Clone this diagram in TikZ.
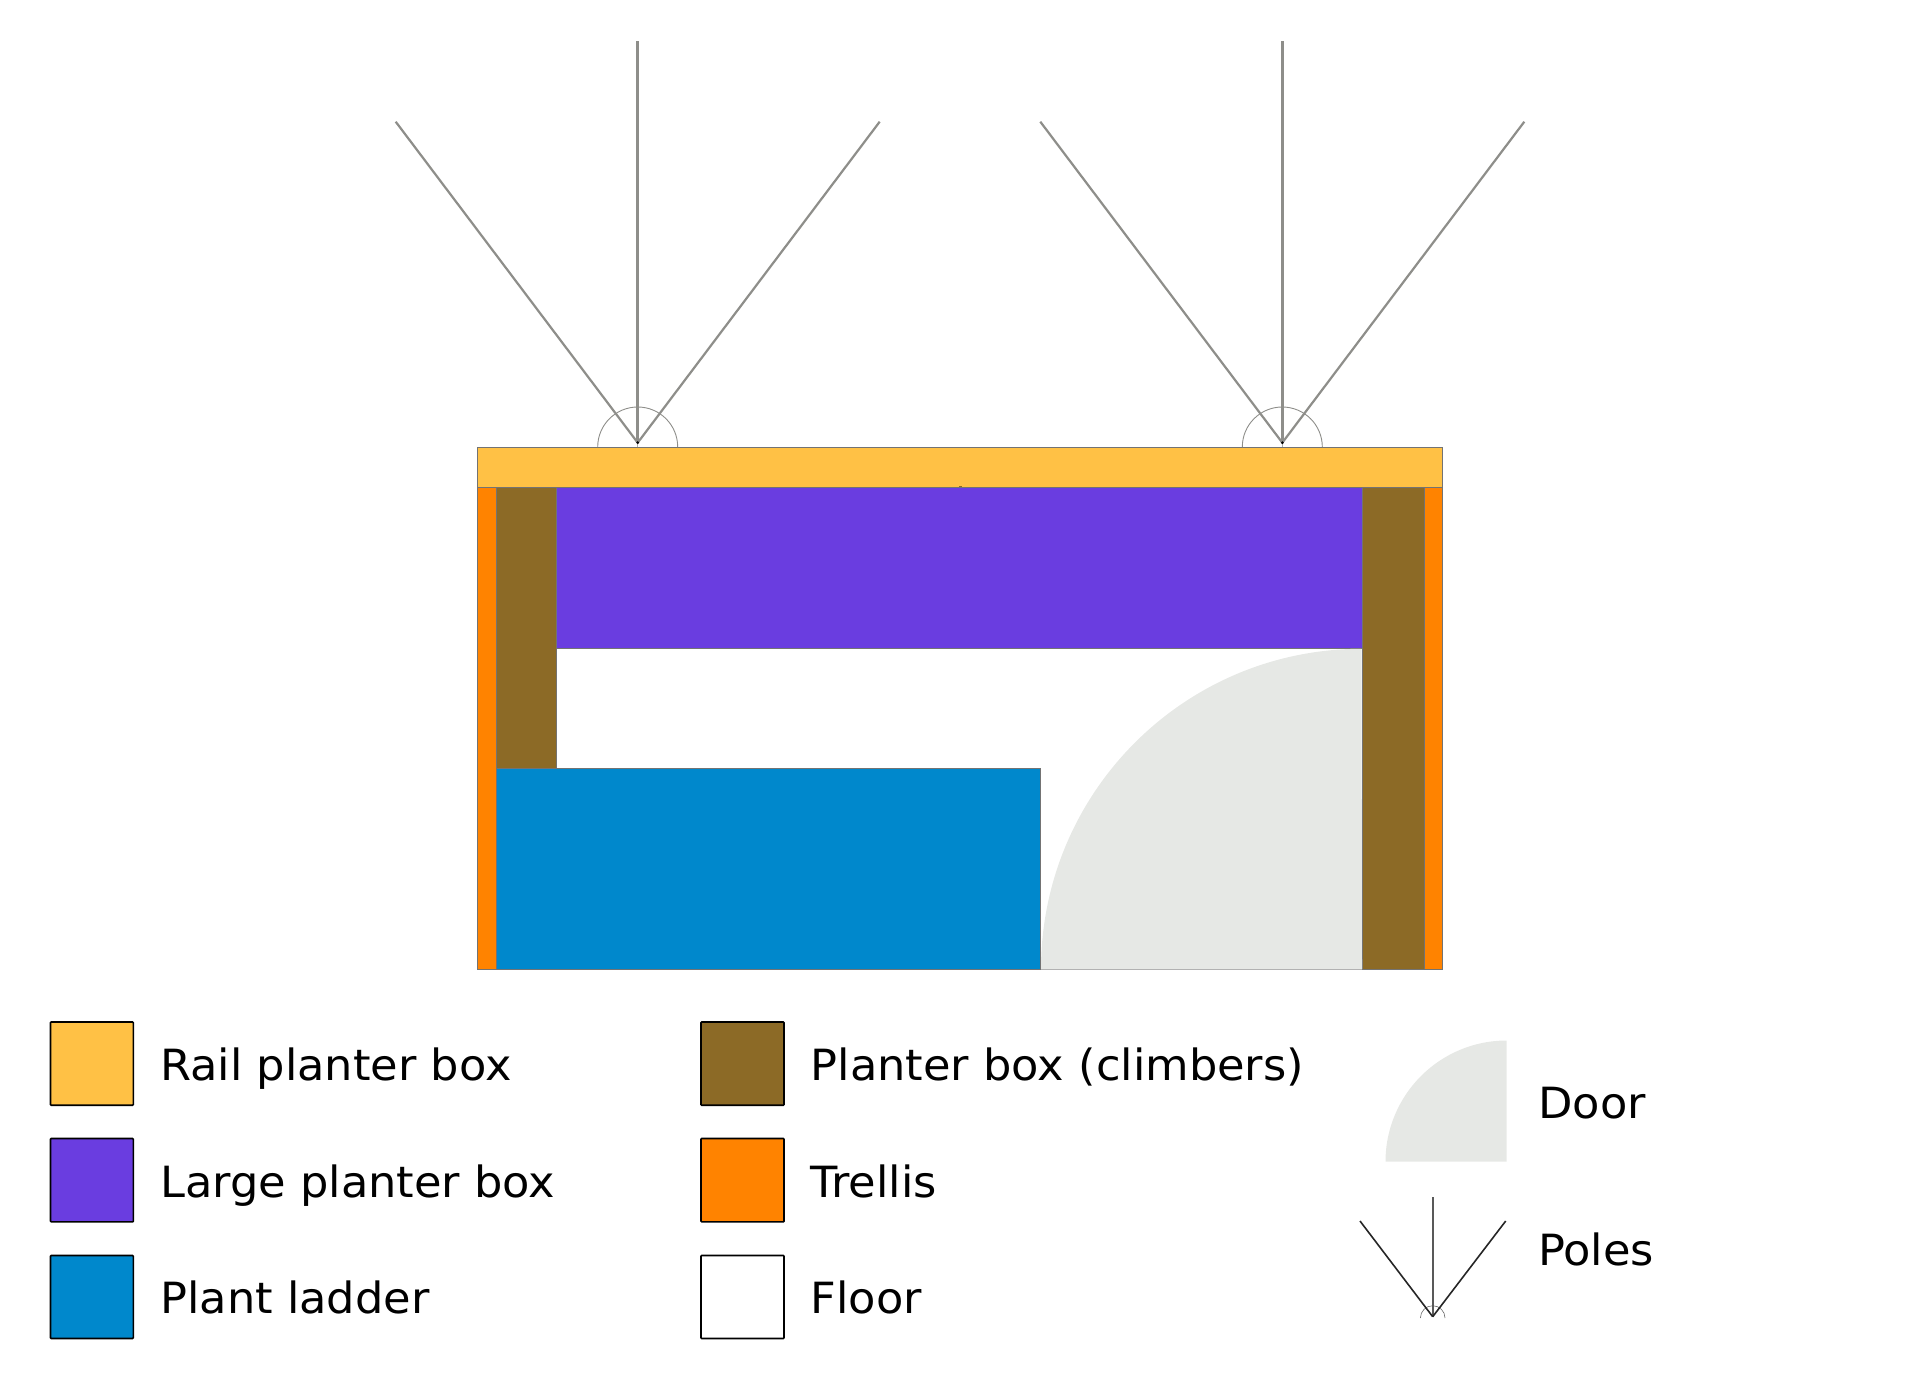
\documentclass[tikz,border=0pt]{standalone}
\usepackage{fontspec}
\setmainfont[FakeStretch=1.04]{DejaVu Sans}
\definecolor{railc}{HTML}{FFC145}
\definecolor{largec}{HTML}{6A3DE0}
\definecolor{ladderc}{HTML}{0088CC}
\definecolor{climbc}{HTML}{8C6A26}
\definecolor{trellisc}{HTML}{FF8300}
\definecolor{doorc}{HTML}{E6E8E5}
\definecolor{polec}{HTML}{8E8E8A}
\tikzset{
  part/.style={draw=black!55,line width=0.9pt},
  swatch/.style={draw=black,line width=1.6pt,rounded corners=0.8pt},
  legtext/.style={anchor=base west,inner sep=0pt,font=\fontsize{43}{50}\selectfont,text=black},
  poleline/.style={draw=polec,line width=2.2pt},
  polemid/.style={draw=polec,line width=2.7pt},
  polearc/.style={draw=polec,line width=0.9pt},
  legpole/.style={draw=black!85,line width=1.6pt},
  legmid/.style={draw=black!65,line width=2pt},
  legarc/.style={draw=black!60,line width=0.6pt},
}
\begin{document}
\begin{tikzpicture}[x=1pt,y=-1pt]
\useasboundingbox (0,0) rectangle (1920,1389);
% trellis and climber boxes
\path[part,fill=trellisc] (477.3,487.3) rectangle (496.5,969.3);
\path[part,fill=trellisc] (1424,487.3) rectangle (1442.7,969.3);
\path[part,fill=climbc] (496.5,487.3) rectangle (556.9,768.3);
\path[part,fill=climbc] (1362,487.3) rectangle (1424,969.3);
% large planter box
\path[part,fill=largec] (556.9,487.3) rectangle (1362,648.1);
% plant ladder
\path[part,fill=ladderc] (496.5,768.3) rectangle (1040.7,969.3);
% door
\fill[doorc] (1362,969.3) -- (1041,969.3) arc[start angle=180,end angle=270,radius=320.5] -- cycle;
\draw[draw=black!30,line width=1.2pt] (1041,969.3) -- (1362,969.3);
% rail planter box
\path[part,fill=railc] (477.3,447) rectangle (1442.7,487.3);
\fill[climbc] (959,485.5) rectangle (961.5,487);
% poles
\foreach \cx in {637.7,1282.3}{
  \draw[polearc] (\cx-40,447) arc[start angle=180,end angle=360,radius=40];
  \draw[polemid] (\cx,442.7) -- (\cx,40.7);
  \draw[poleline] (\cx,442.7) -- (\cx-242,121.7);
  \draw[poleline] (\cx,442.7) -- (\cx+242,121.7);
  \draw[draw=polec!70,line width=1.2pt] (\cx,442.7) -- (\cx,447);
  \fill[black] (\cx,442.7) circle[radius=1.5];
}
% legend swatches
\draw[swatch,fill=railc] (50.5,1022) rectangle (133.3,1105.2);
\draw[swatch,fill=largec] (50.5,1138.5) rectangle (133.3,1221.9);
\draw[swatch,fill=ladderc] (50.5,1255.5) rectangle (133.3,1338.5);
\draw[swatch,fill=climbc] (701,1022) rectangle (784,1105.2);
\draw[swatch,fill=trellisc] (701,1138.5) rectangle (784,1221.9);
\draw[swatch,fill=white] (701,1255.5) rectangle (784,1338.5);
% legend texts
\node[legtext] (t1) at (160,1080) {Rail planter box};
\node[legtext] (t2) at (160,1197) {Large planter box};
\node[legtext] (t3) at (160,1313.6) {Plant ladder};
\node[legtext] (t4) at (810.5,1080) {Planter box (climbers)};
\node[legtext] (t5) at (810.5,1197) {Trellis};
\node[legtext] (t6) at (810.5,1313.6) {Floor};
\node[legtext] (t7) at (1538,1118) {Door};
\node[legtext] (t8) at (1538,1265.3) {Poles};
% legend door
\fill[doorc] (1506.7,1161.7) -- (1385.5,1161.7) arc[start angle=180,end angle=270,radius=121.2] -- cycle;
% legend poles
\draw[legarc] (1420.4,1318) arc[start angle=180,end angle=360,radius=12.3];
\draw[legmid] (1432.7,1316.7) -- (1432.7,1197.3);
\draw[legpole] (1432.7,1316.7) -- (1360,1221);
\draw[legpole] (1432.7,1316.7) -- (1505.7,1221);
\end{tikzpicture}
\end{document}
